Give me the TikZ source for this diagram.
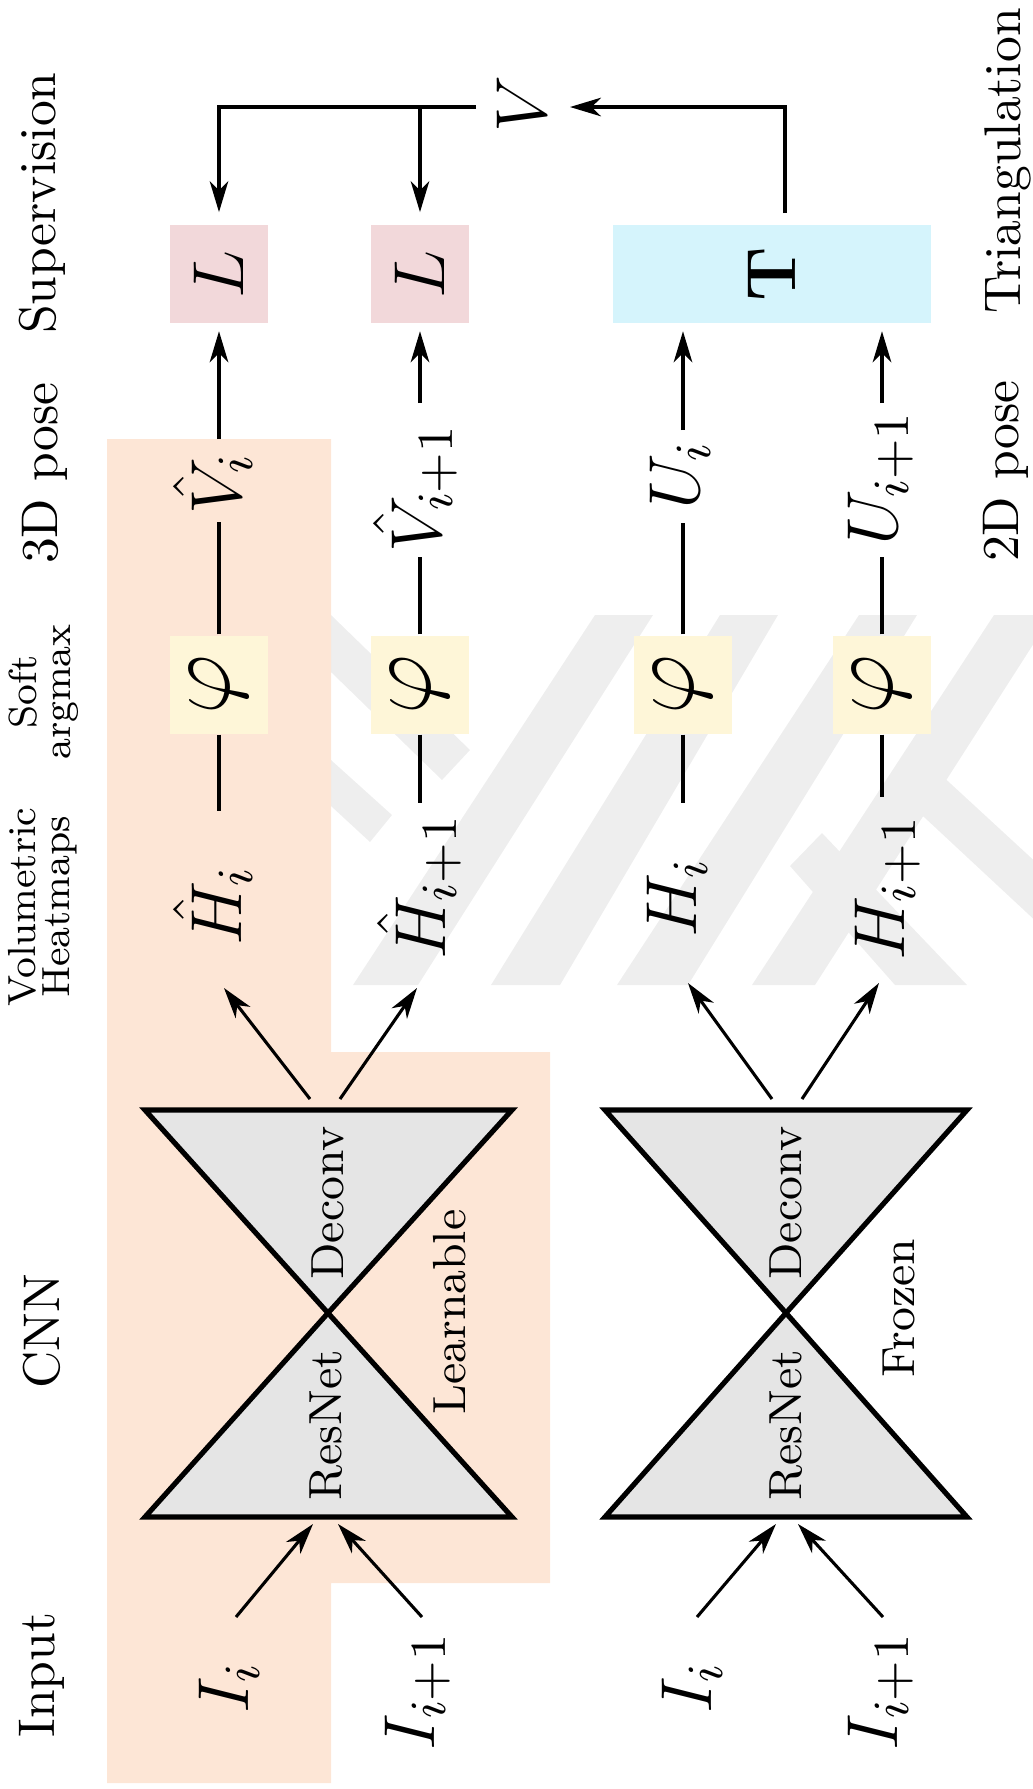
\RequirePackage{fix-cm}
\documentclass[tikz,border=0pt]{standalone}
\usetikzlibrary{arrows.meta}
\definecolor{learn}{RGB}{253,230,214}
\definecolor{lossc}{RGB}{242,216,218}
\definecolor{tric}{RGB}{213,244,252}
\definecolor{phic}{RGB}{254,246,216}
\definecolor{glass}{RGB}{229,229,229}
\definecolor{wm}{RGB}{238,238,238}
\begin{document}
\begin{tikzpicture}[x=0.1938pt,y=-0.1938pt,
  conn/.style={line width=0.6pt},
  arr/.style={conn,-{Stealth[length=6pt,width=3.6pt,inset=1.8pt]}},
  lab/.style={rotate=90,inner sep=0pt,font=\fontsize{10}{12}\selectfont},
  smalllab/.style={rotate=90,inner sep=0pt,align=center,font=\fontsize{7.6}{6.6}\selectfont},
  cnnlab/.style={rotate=90,inner sep=0pt,font=\fontsize{9}{11}\selectfont},
  mth/.style={rotate=90,inner sep=0pt,font=\fontsize{14}{16}\selectfont},
  sqbox/.style={minimum width=19pt,minimum height=19pt,inner sep=0pt,font=\fontsize{14}{16}\selectfont},
  phibox/.style={sqbox,fill=phic,font=\fontsize{18}{20}\selectfont},
  glassline/.style={line width=1pt,line join=miter}
]
\useasboundingbox (0,0) rectangle (1033,1789);
% watermark
\begin{scope}
\clip (331,615) rectangle (1033,985);
\fill[wm] (353,985) -- (418,985) -- (653,615) -- (595,615) -- cycle;
\fill[wm] (491,985) -- (560,985) -- (778,615) -- (720,615) -- cycle;
\fill[wm] (617,985) -- (688,985) -- (917,615) -- (859,615) -- cycle;
\fill[wm] (752,985) -- (815,985) -- (1052,615) -- (994,615) -- cycle;
\fill[wm] (331,615) -- (470,750) -- (442,780) -- (331,672) -- cycle;
\fill[wm] (331,760) -- (392,815) -- (370,842) -- (331,806) -- cycle;
\fill[wm] (790,866) -- (822,833) -- (967,985) -- (895,985) -- cycle;
\fill[wm] (895,790) -- (925,760) -- (1040,866) -- (1040,925) -- cycle;
\end{scope}
% learnable region
\fill[learn] (107,439) -- (331,439) -- (331,1052) -- (550,1052) -- (550,1583)
  -- (331,1583) -- (331,1783) -- (107,1783) -- cycle;
% column labels
\node[lab] (inputlab) at (42,1675) {Input};
\node[lab] (cnnlab) at (42,1331) {CNN};
\node[smalllab] (vollab) at (43,907) {Volumetric\\Heatmaps};
\node[smalllab] (softlab) at (44,692) {Soft\\argmax};
\node[lab] (pose3lab) at (45,473) {3D pose};
\node[lab] (suplab) at (42,203) {Supervision};
\node[lab] (pose2lab) at (1006,471) {2D pose};
\node[lab] (trilab) at (1008,161) {Triangulation};
% hourglasses
\coordinate (g1tl) at (145,1110); \coordinate (g1tr) at (512,1110);
\coordinate (g1c) at (328,1313);
\coordinate (g1bl) at (145,1517); \coordinate (g1br) at (512,1517);
\filldraw[glassline,fill=glass] (g1tl) -- (g1tr) -- (g1c) -- cycle;
\filldraw[glassline,fill=glass] (g1bl) -- (g1br) -- (g1c) -- cycle;
\coordinate (g2tl) at (605,1110); \coordinate (g2tr) at (967,1110);
\coordinate (g2c) at (786,1313);
\coordinate (g2bl) at (605,1517); \coordinate (g2br) at (967,1517);
\filldraw[glassline,fill=glass] (g2tl) -- (g2tr) -- (g2c) -- cycle;
\filldraw[glassline,fill=glass] (g2bl) -- (g2br) -- (g2c) -- cycle;
\node[cnnlab] (dec1) at (328,1203) {Deconv};
\node[cnnlab] (res1) at (326,1425) {ResNet};
\node[cnnlab] (dec2) at (786,1203) {Deconv};
\node[cnnlab] (res2) at (786,1425) {ResNet};
\node[cnnlab] (learnlab) at (450,1312) {Learnable};
\node[cnnlab] (frozenlab) at (899,1308) {Frozen};
% inputs
\node[mth] (I1) at (229,1688) {$I_i$};
\node[mth] (I2) at (418,1691) {$I_{i+1}$};
\node[mth] (I3) at (692,1688) {$I_i$};
\node[mth] (I4) at (881,1691) {$I_{i+1}$};
\coordinate (in1) at (236,1617); \coordinate (c1i1) at (313,1524);
\coordinate (in2) at (422,1617); \coordinate (c1i2) at (338,1524);
\coordinate (in3) at (697,1617); \coordinate (c2i1) at (776,1524);
\coordinate (in4) at (883,1617); \coordinate (c2i2) at (798,1524);
\draw[arr] (in1) -- (c1i1);
\draw[arr] (in2) -- (c1i2);
\draw[arr] (in3) -- (c2i1);
\draw[arr] (in4) -- (c2i2);
% heatmaps
\node[mth] (Hh1) at (213,906) {$\hat{H}_i$};
\node[mth] (Hh2) at (419,887) {$\hat{H}_{i+1}$};
\node[mth] (H1) at (677,898) {$H_i$};
\node[mth] (H2) at (888,888) {$H_{i+1}$};
\coordinate (c1o1) at (310,1099); \coordinate (hh1tip) at (224,988);
\coordinate (c1o2) at (340,1099); \coordinate (hh2tip) at (417,988);
\coordinate (c2o1) at (772,1099); \coordinate (h1tip) at (688,983);
\coordinate (c2o2) at (802,1099); \coordinate (h2tip) at (879,983);
\draw[arr] (c1o1) -- (hh1tip);
\draw[arr] (c1o2) -- (hh2tip);
\draw[arr] (c2o1) -- (h1tip);
\draw[arr] (c2o2) -- (h2tip);
% soft argmax
\node[phibox] (phi1) at (219,684.5) {\rotatebox{90}{$\varphi$}};
\node[phibox] (phi2) at (420,684.5) {\rotatebox{90}{$\varphi$}};
\node[phibox] (phi3) at (683,684.5) {\rotatebox{90}{$\varphi$}};
\node[phibox] (phi4) at (882,684.5) {\rotatebox{90}{$\varphi$}};
\coordinate (h1t) at (219,811); \coordinate (h2t) at (420,803);
\coordinate (h3t) at (683,803); \coordinate (h4t) at (882,797);
\draw[conn] (phi1.south) -- (h1t);
\draw[conn] (phi2.south) -- (h2t);
\draw[conn] (phi3.south) -- (h3t);
\draw[conn] (phi4.south) -- (h4t);
% poses
\node[mth] (Vh1) at (213,484) {$\hat{V}_i$};
\node[mth] (Vh2) at (415,488) {$\hat{V}_{i+1}$};
\node[mth] (U1) at (680,475) {$U_i$};
\node[mth] (U2) at (881,478) {$U_{i+1}$};
\coordinate (v1b) at (219,522); \coordinate (v1t) at (219,439);
\coordinate (v2b) at (420,557); \coordinate (v2t) at (420,403);
\coordinate (u1b) at (683,523); \coordinate (u1t) at (683,430);
\coordinate (u2b) at (882,557); \coordinate (u2t) at (882,403);
\draw[conn] (phi1.north) -- (v1b);
\draw[conn] (phi2.north) -- (v2b);
\draw[conn] (phi3.north) -- (u1b);
\draw[conn] (phi4.north) -- (u2b);
% supervision / triangulation
\node[sqbox,fill=lossc] (L1) at (219,274) {\rotatebox{90}{$L$}};
\node[sqbox,fill=lossc] (L2) at (420,274) {\rotatebox{90}{$L$}};
\node[sqbox,fill=tric,minimum width=61.8pt,font=\fontsize{13.5}{16}\selectfont] (T) at (772,274) {\rotatebox{90}{$\mathbf{T}$}};
\draw[arr,shorten >=1.4pt] (v1t) -- (L1.south);
\draw[arr,shorten >=1.4pt] (v2t) -- (L2.south);
\draw[arr,shorten >=1.4pt] (u1t) -- (u1t |- T.south);
\draw[arr,shorten >=1.4pt] (u2t) -- (u2t |- T.south);
% V
\node[mth] (V) at (522,104) {$V$};
\coordinate (Vl) at (476,107); \coordinate (Vr) at (570,107);
\coordinate (Tout) at (785,213);
\draw[arr,shorten >=2.3pt] (Vl) -| (L1.north);
\draw[arr,shorten >=2.3pt] (Vl -| L2.north) -- (L2.north);
\draw[arr] (Tout) |- (Vr);
\end{tikzpicture}
\end{document}
